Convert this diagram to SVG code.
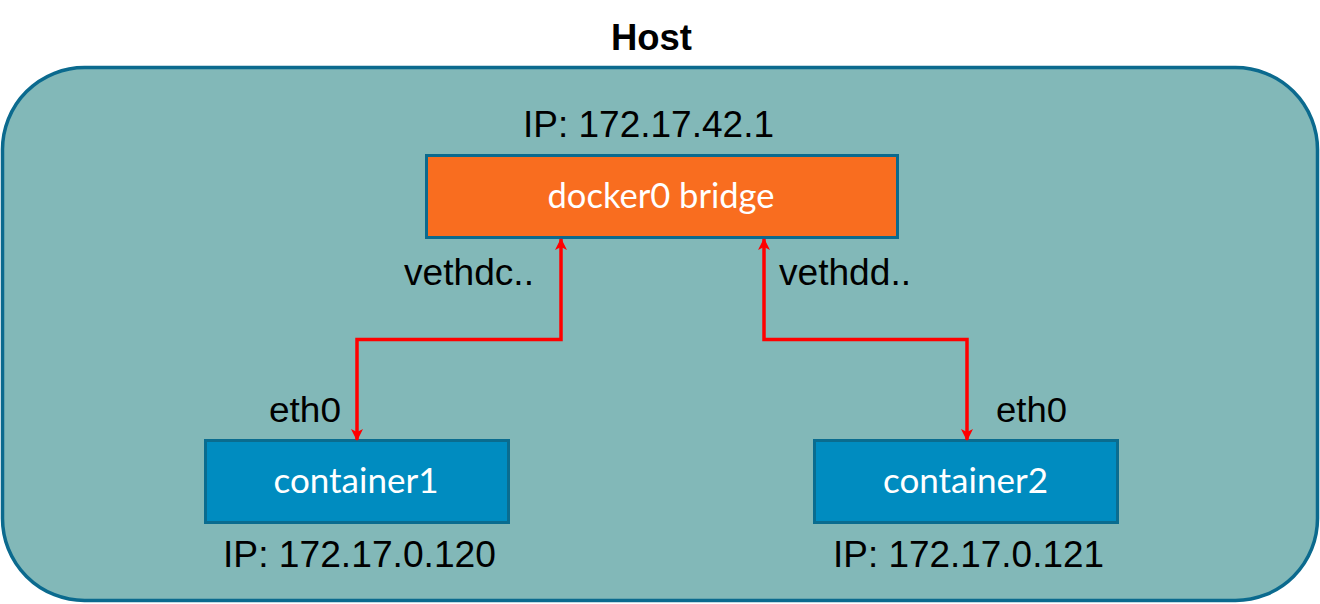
<svg xmlns="http://www.w3.org/2000/svg" width="1320" height="604" viewBox="0 0 1320 604">
<style>
.lbl{font-family:"Liberation Sans",Arial,sans-serif;fill:#000;}
.box{font-family:Lato,"Open Sans",sans-serif;fill:#fff;text-anchor:middle;}
.conn{fill:none;stroke:#ff0000;stroke-width:3.5;stroke-linejoin:miter;}
</style>
<defs>
<marker id="ah" viewBox="0 0 12 12" refX="11" refY="6" markerWidth="12" markerHeight="12" markerUnits="userSpaceOnUse" orient="auto-start-reverse">
<path d="M0,0 L12,6 L0,12 L3,6 Z" fill="#ff0000"/>
</marker>
</defs>
<rect width="1320" height="604" fill="#ffffff"/>
<g id="host">
<rect x="2.5" y="67.5" width="1315" height="533" rx="82" ry="82" fill="#82b8b8" stroke="#0b6a8e" stroke-width="3.5"/>
<text class="lbl" x="611" y="50" font-size="36" font-weight="bold" textLength="81" lengthAdjust="spacingAndGlyphs">Host</text>
</g>
<g id="bridge">
<rect x="426.5" y="155.5" width="471" height="82" fill="#f96d1f" stroke="#0b6a8e" stroke-width="3"/>
<text class="box" x="661" y="208" font-size="34" textLength="227" lengthAdjust="spacingAndGlyphs">docker0 bridge</text>
<text class="lbl" x="523" y="137" font-size="37" textLength="251" lengthAdjust="spacingAndGlyphs">IP: 172.17.42.1</text>
</g>
<g id="container1">
<rect x="205.5" y="440.5" width="303" height="82" fill="#008cc0" stroke="#0a6c8f" stroke-width="3"/>
<text class="box" x="356" y="493" font-size="34" textLength="165" lengthAdjust="spacingAndGlyphs">container1</text>
<text class="lbl" x="223" y="567" font-size="36" textLength="273" lengthAdjust="spacingAndGlyphs">IP: 172.17.0.120</text>
</g>
<g id="container2">
<rect x="814.5" y="440.5" width="303" height="82" fill="#008cc0" stroke="#0a6c8f" stroke-width="3"/>
<text class="box" x="965.5" y="493" font-size="34" textLength="165" lengthAdjust="spacingAndGlyphs">container2</text>
<text class="lbl" x="833" y="567" font-size="36" textLength="271" lengthAdjust="spacingAndGlyphs">IP: 172.17.0.121</text>
</g>
<g id="connectors">
<path class="conn" d="M561,239 V339.5 H357 V440" marker-start="url(#ah)" marker-end="url(#ah)"/>
<path class="conn" d="M764,239 V339.5 H967 V440" marker-start="url(#ah)" marker-end="url(#ah)"/>
<text class="lbl" x="404" y="285" font-size="37" textLength="130" lengthAdjust="spacingAndGlyphs">vethdc..</text>
<text class="lbl" x="779" y="285" font-size="37" textLength="132" lengthAdjust="spacingAndGlyphs">vethdd..</text>
<text class="lbl" x="269" y="422" font-size="35" textLength="72" lengthAdjust="spacingAndGlyphs">eth0</text>
<text class="lbl" x="996" y="422" font-size="35" textLength="71" lengthAdjust="spacingAndGlyphs">eth0</text>
</g>
</svg>
